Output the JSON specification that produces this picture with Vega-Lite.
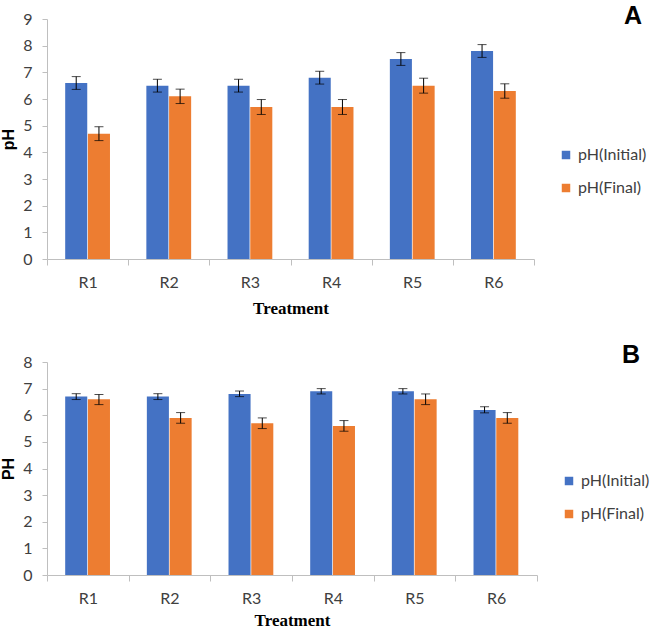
{
  "$schema": "https://vega.github.io/schema/vega-lite/v6.json",
  "padding": {"left": 0, "top": 4, "right": 0, "bottom": 0},
  "background": "white",
  "config": {
    "view": {"stroke": null},
    "font": "Lato",
    "axis": {"grid": false, "domainColor": "#bfbfbf", "tickColor": "#bfbfbf", "labelColor": "#404040", "labelFontSize": 16, "labelFont": "Lato", "labelOverlap": false},
    "axisY": {"tickSize": 5, "labelPadding": 10, "titleFont": "Liberation Sans", "titleFontSize": 16, "titleFontWeight": "bold", "titleColor": "black", "titlePadding": 6},
    "legend": {"labelFontSize": 16, "labelFont": "Lato", "labelColor": "#404040", "symbolType": "square", "symbolSize": 72, "rowPadding": 17, "labelOffset": 4, "symbolStrokeWidth": 0},
    "title": {"frame": "group", "anchor": "end", "fontSize": 25, "fontWeight": "bold", "font": "Liberation Sans", "color": "black"}
  },
  "datasets": {
    "a": [
      {"trt": "R1", "series": "pH(Initial)", "value": 6.6, "lo": 6.36, "hi": 6.84},
      {"trt": "R1", "series": "pH(Final)", "value": 4.7, "lo": 4.44, "hi": 4.96},
      {"trt": "R2", "series": "pH(Initial)", "value": 6.5, "lo": 6.26, "hi": 6.74},
      {"trt": "R2", "series": "pH(Final)", "value": 6.1, "lo": 5.83, "hi": 6.37},
      {"trt": "R3", "series": "pH(Initial)", "value": 6.5, "lo": 6.26, "hi": 6.74},
      {"trt": "R3", "series": "pH(Final)", "value": 5.7, "lo": 5.42, "hi": 5.98},
      {"trt": "R4", "series": "pH(Initial)", "value": 6.8, "lo": 6.56, "hi": 7.04},
      {"trt": "R4", "series": "pH(Final)", "value": 5.7, "lo": 5.42, "hi": 5.98},
      {"trt": "R5", "series": "pH(Initial)", "value": 7.5, "lo": 7.26, "hi": 7.74},
      {"trt": "R5", "series": "pH(Final)", "value": 6.5, "lo": 6.22, "hi": 6.78},
      {"trt": "R6", "series": "pH(Initial)", "value": 7.8, "lo": 7.56, "hi": 8.04},
      {"trt": "R6", "series": "pH(Final)", "value": 6.3, "lo": 6.03, "hi": 6.57}
    ],
    "b": [
      {"trt": "R1", "series": "pH(Initial)", "value": 6.7, "lo": 6.59, "hi": 6.81},
      {"trt": "R1", "series": "pH(Final)", "value": 6.6, "lo": 6.4, "hi": 6.78},
      {"trt": "R2", "series": "pH(Initial)", "value": 6.7, "lo": 6.59, "hi": 6.81},
      {"trt": "R2", "series": "pH(Final)", "value": 5.9, "lo": 5.7, "hi": 6.1},
      {"trt": "R3", "series": "pH(Initial)", "value": 6.8, "lo": 6.7, "hi": 6.91},
      {"trt": "R3", "series": "pH(Final)", "value": 5.7, "lo": 5.5, "hi": 5.9},
      {"trt": "R4", "series": "pH(Initial)", "value": 6.9, "lo": 6.8, "hi": 7.0},
      {"trt": "R4", "series": "pH(Final)", "value": 5.6, "lo": 5.4, "hi": 5.8},
      {"trt": "R5", "series": "pH(Initial)", "value": 6.9, "lo": 6.8, "hi": 7.0},
      {"trt": "R5", "series": "pH(Final)", "value": 6.6, "lo": 6.4, "hi": 6.8},
      {"trt": "R6", "series": "pH(Initial)", "value": 6.2, "lo": 6.09, "hi": 6.32},
      {"trt": "R6", "series": "pH(Final)", "value": 5.9, "lo": 5.7, "hi": 6.1}
    ]
  },
  "spacing": 27,
  "resolve": {"scale": {"color": "independent"}, "legend": {"color": "independent"}},
  "vconcat": [
    {
      "width": 487,
      "height": 240,
      "title": {"text": "A", "dx": 108, "offset": -18},
      "data": {"name": "a"},
      "encoding": {
        "x": {"field": "trt", "type": "nominal", "title": "Treatment", "scale": {"paddingInner": 0, "paddingOuter": 0},
          "axis": {"labelAngle": 0, "tickBand": "extent", "tickSize": 6, "labelPadding": 9, "titleFont": "Liberation Serif", "titleFontSize": 17, "titleFontWeight": "bold", "titleColor": "black", "titlePadding": 10}},
        "xOffset": {"field": "series", "type": "nominal", "sort": ["pH(Initial)", "pH(Final)"], "scale": {"paddingInner": 0.03, "paddingOuter": 0.8}}
      },
      "layer": [
        {
          "mark": {"type": "bar"},
          "encoding": {
            "y": {"field": "value", "type": "quantitative", "title": "pH", "scale": {"domain": [0, 9], "nice": false},
              "axis": {"values": [0,1,2,3,4,5,6,7,8,9]}},
            "color": {"field": "series", "type": "nominal", "title": null, "scale": {"domain": ["pH(Initial)", "pH(Final)"], "range": ["#4472C4", "#ED7D31"]},
              "legend": {"orient": "none", "legendX": 511, "legendY": 128}}
          }
        },
        {
          "mark": {"type": "rule", "color": "black", "strokeWidth": 1},
          "encoding": {"y": {"field": "lo", "type": "quantitative", "title": "pH", "axis": {"values": [0,1,2,3,4,5,6,7,8,9]}}, "y2": {"field": "hi"}}
        },
        {
          "mark": {"type": "tick", "color": "black", "size": 9, "thickness": 1},
          "encoding": {"y": {"field": "lo", "type": "quantitative", "title": "pH", "axis": {"values": [0,1,2,3,4,5,6,7,8,9]}}}
        },
        {
          "mark": {"type": "tick", "color": "black", "size": 9, "thickness": 1},
          "encoding": {"y": {"field": "hi", "type": "quantitative", "title": "pH", "axis": {"values": [0,1,2,3,4,5,6,7,8,9]}}}
        }
      ]
    },
    {
      "width": 490,
      "height": 213,
      "title": {"text": "B", "dx": 103, "offset": -14},
      "data": {"name": "b"},
      "encoding": {
        "x": {"field": "trt", "type": "nominal", "title": "Treatment", "scale": {"paddingInner": 0, "paddingOuter": 0},
          "axis": {"labelAngle": 0, "tickBand": "extent", "tickSize": 6, "labelPadding": 9, "titleFont": "Liberation Serif", "titleFontSize": 17, "titleFontWeight": "bold", "titleColor": "black", "titlePadding": 6}},
        "xOffset": {"field": "series", "type": "nominal", "sort": ["pH(Initial)", "pH(Final)"], "scale": {"paddingInner": 0.03, "paddingOuter": 0.8}}
      },
      "layer": [
        {
          "mark": {"type": "bar"},
          "encoding": {
            "y": {"field": "value", "type": "quantitative", "title": "PH", "scale": {"domain": [0, 8], "nice": false},
              "axis": {"values": [0,1,2,3,4,5,6,7,8]}},
            "color": {"field": "series", "type": "nominal", "title": null, "scale": {"domain": ["pH(Initial)", "pH(Final)"], "range": ["#4472C4", "#ED7D31"]},
              "legend": {"orient": "none", "legendX": 514, "legendY": 111}}
          }
        },
        {
          "mark": {"type": "rule", "color": "black", "strokeWidth": 1},
          "encoding": {"y": {"field": "lo", "type": "quantitative", "title": "PH", "axis": {"values": [0,1,2,3,4,5,6,7,8]}}, "y2": {"field": "hi"}}
        },
        {
          "mark": {"type": "tick", "color": "black", "size": 9, "thickness": 1},
          "encoding": {"y": {"field": "lo", "type": "quantitative", "title": "PH", "axis": {"values": [0,1,2,3,4,5,6,7,8]}}}
        },
        {
          "mark": {"type": "tick", "color": "black", "size": 9, "thickness": 1},
          "encoding": {"y": {"field": "hi", "type": "quantitative", "title": "PH", "axis": {"values": [0,1,2,3,4,5,6,7,8]}}}
        }
      ]
    }
  ]
}
